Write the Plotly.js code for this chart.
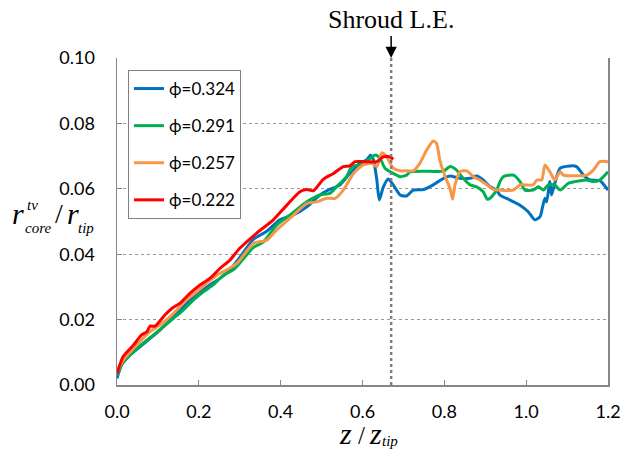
<!DOCTYPE html>
<html>
<head>
<meta charset="utf-8">
<script src="https://cdn.plot.ly/plotly-3.0.1.min.js"></script>
<style>html,body{margin:0;padding:0;background:#fff;}#chart{width:622px;height:450px;}</style>
</head>
<body>
<div id="chart"></div>
<script>
// phi = 0.324 (blue)
const zBlue = [0, 0.011, 0.032, 0.056, 0.081, 0.105, 0.13, 0.154, 0.178, 0.203, 0.227, 0.252, 0.276, 0.30, 0.333, 0.366, 0.398, 0.431, 0.464, 0.496, 0.516, 0.545, 0.569, 0.594, 0.61, 0.62, 0.627, 0.635, 0.641, 0.651, 0.663, 0.675, 0.692, 0.708, 0.724, 0.749, 0.773, 0.798, 0.814, 0.838, 0.863, 0.879, 0.895, 0.912, 0.928, 0.936, 0.96, 0.985, 1.005, 1.021, 1.034, 1.041, 1.046, 1.050, 1.058, 1.062, 1.070, 1.083, 1.107, 1.123, 1.140, 1.156, 1.180, 1.2];
const yBlue = [0.002, 0.0061, 0.0092, 0.0117, 0.0143, 0.0168, 0.0199, 0.0229, 0.026, 0.0285, 0.0306, 0.0326, 0.0352, 0.039, 0.0445, 0.047, 0.0505, 0.052, 0.0545, 0.0581, 0.0596, 0.0612, 0.0647, 0.0678, 0.0688, 0.0703, 0.0688, 0.0627, 0.0566, 0.0606, 0.063, 0.0612, 0.0581, 0.0578, 0.0596, 0.0598, 0.0612, 0.0632, 0.0639, 0.0632, 0.0632, 0.0639, 0.0627, 0.0606, 0.0596, 0.0581, 0.0566, 0.055, 0.053, 0.0505, 0.0515, 0.055, 0.0571, 0.056, 0.0622, 0.0581, 0.0617, 0.0663, 0.067, 0.0668, 0.0642, 0.0627, 0.0625, 0.0596];

// phi = 0.291 (green)
const zGreen = [0, 0.015, 0.04, 0.064, 0.089, 0.113, 0.138, 0.162, 0.187, 0.211, 0.235, 0.26, 0.284, 0.305, 0.333, 0.358, 0.39, 0.423, 0.464, 0.496, 0.52, 0.541, 0.561, 0.574, 0.594, 0.614, 0.631, 0.643, 0.655, 0.675, 0.692, 0.708, 0.716, 0.75, 0.798, 0.814, 0.83, 0.846, 0.863, 0.879, 0.895, 0.905, 0.912, 0.928, 0.936, 0.944, 0.969, 0.985, 0.997, 1.017, 1.030, 1.042, 1.054, 1.070, 1.083, 1.103, 1.119, 1.148, 1.164, 1.180, 1.2];
const yGreen = [0.003, 0.0071, 0.0102, 0.0128, 0.0153, 0.0178, 0.0204, 0.0229, 0.026, 0.0285, 0.0306, 0.0336, 0.0352, 0.038, 0.042, 0.0438, 0.0489, 0.052, 0.056, 0.0581, 0.0586, 0.0612, 0.0637, 0.0668, 0.0673, 0.0688, 0.0703, 0.0693, 0.0663, 0.0647, 0.0637, 0.0642, 0.0652, 0.0654, 0.0654, 0.0668, 0.0657, 0.0632, 0.0612, 0.0606, 0.0591, 0.0568, 0.0571, 0.0596, 0.0622, 0.0637, 0.0642, 0.0622, 0.0596, 0.0596, 0.0606, 0.0596, 0.0612, 0.0612, 0.0596, 0.0617, 0.0622, 0.0627, 0.0622, 0.0627, 0.0652];

// phi = 0.257 (orange)
const zOrange = [0, 0.015, 0.04, 0.06, 0.081, 0.105, 0.13, 0.146, 0.17, 0.195, 0.219, 0.244, 0.268, 0.293, 0.333, 0.366, 0.39, 0.423, 0.464, 0.488, 0.512, 0.533, 0.553, 0.578, 0.602, 0.622, 0.635, 0.647, 0.659, 0.675, 0.692, 0.708, 0.724, 0.740, 0.757, 0.773, 0.781, 0.789, 0.802, 0.814, 0.820, 0.826, 0.838, 0.855, 0.871, 0.887, 0.904, 0.920, 0.936, 0.969, 0.985, 1.017, 1.026, 1.038, 1.046, 1.058, 1.070, 1.083, 1.091, 1.148, 1.164, 1.180, 1.2];
const yOrange = [0.004, 0.0076, 0.0112, 0.0138, 0.0163, 0.0183, 0.0209, 0.0229, 0.026, 0.0285, 0.0311, 0.0336, 0.0352, 0.0372, 0.0433, 0.0443, 0.0474, 0.051, 0.0555, 0.056, 0.0571, 0.0571, 0.0596, 0.0647, 0.0673, 0.0678, 0.0668, 0.071, 0.0698, 0.0663, 0.0655, 0.0655, 0.0655, 0.0678, 0.0719, 0.0746, 0.0739, 0.0688, 0.0637, 0.0601, 0.0568, 0.0612, 0.0652, 0.0655, 0.0637, 0.0627, 0.0612, 0.0598, 0.0596, 0.0596, 0.0612, 0.0612, 0.0627, 0.0627, 0.0673, 0.0652, 0.0627, 0.0652, 0.0642, 0.0642, 0.0657, 0.0683, 0.0683];

// phi = 0.222 (red)
const zRed = [0, 0.015, 0.04, 0.06, 0.073, 0.081, 0.093, 0.117, 0.134, 0.154, 0.178, 0.203, 0.227, 0.252, 0.276, 0.30, 0.341, 0.382, 0.415, 0.447, 0.464, 0.48, 0.504, 0.529, 0.553, 0.569, 0.582, 0.61, 0.635, 0.651, 0.667, 0.675];
const yRed = [0.0035, 0.0087, 0.0122, 0.0153, 0.0163, 0.018, 0.018, 0.0214, 0.0234, 0.025, 0.028, 0.0306, 0.0326, 0.0357, 0.0382, 0.0418, 0.0464, 0.0505, 0.055, 0.0591, 0.0598, 0.0594, 0.0629, 0.0647, 0.0668, 0.067, 0.0683, 0.0683, 0.0683, 0.0698, 0.0698, 0.069];

const seriesNames = ["ϕ=0.324", "ϕ=0.291", "ϕ=0.257", "ϕ=0.222"];
const seriesColors = ["#0070C0", "#00B050", "#F79646", "#FF0000"];
const shroudZ = 0.67;
const xTicks = [0, 0.2, 0.4, 0.6, 0.8, 1.0, 1.2];
const yTicks = [0, 0.02, 0.04, 0.06, 0.08, 0.10];

const xs = [zBlue, zGreen, zOrange, zRed];
const ys = [yBlue, yGreen, yOrange, yRed];
const traces = xs.map((x, i) => ({
  x: x, y: ys[i], type: "scatter", mode: "lines",
  name: seriesNames[i], legendgroup: "g" + i,
  line: {color: seriesColors[i], width: 3, shape: "spline", smoothing: 0.6}
}));

const L = 117, R = 608, T = 58, B = 385;
const px = v => (v - L) / (R - L);
const py = v => (B - v) / (B - T);

const sans = "Lato, 'Open Sans', sans-serif";
const tickFont = {family: sans, size: 18, color: "#000"};
const serif = "'Liberation Serif', 'DejaVu Serif', serif";

function txt(text, cx, cy, size) {
  return {xref: "paper", yref: "paper", x: px(cx), y: py(cy), xanchor: "center", yanchor: "middle",
    text: text, showarrow: false, font: {family: serif, size: size, color: "#000"}};
}

const layout = {
  width: 622, height: 450,
  margin: {l: L, r: 622 - R, t: T, b: 450 - B},
  paper_bgcolor: "#fff", plot_bgcolor: "#fff",
  showlegend: true,
  legend: {
    x: px(128), y: py(70), xanchor: "left", yanchor: "top",
    bordercolor: "#808080", borderwidth: 1, bgcolor: "#fff",
    font: {family: sans, size: 17, color: "#000"},
    tracegroupgap: 12, itemwidth: 30
  },
  xaxis: {
    range: [0, 1.2], tickvals: xTicks, ticktext: xTicks.map(v => v.toFixed(1)),
    showgrid: false, zeroline: false,
    showline: true, linecolor: "#868686", linewidth: 1.5,
    ticks: "inside", ticklen: 5, tickcolor: "#868686",
    tickfont: tickFont, ticklabelstandoff: 10
  },
  yaxis: {
    range: [0, 0.1], tickvals: yTicks, ticktext: yTicks.map(v => v.toFixed(2)),
    showgrid: true, gridcolor: "#999999", griddash: "dot", gridwidth: 1,
    zeroline: false,
    showline: true, linecolor: "#868686", linewidth: 1.5, mirror: true,
    ticks: "inside", ticklen: 5, tickcolor: "#868686",
    tickfont: tickFont, ticklabelstandoff: 17
  },
  shapes: [{
    type: "line", xref: "x", yref: "paper", x0: shroudZ, x1: shroudZ, y0: 0, y1: 1,
    line: {color: "#7f7f7f", width: 2.5, dash: "dot"}
  }],
  annotations: [
    {
      xref: "x", yref: "paper", x: shroudZ, y: 1, text: "Shroud L.E.",
      showarrow: true, arrowhead: 2, arrowsize: 1.5, arrowwidth: 1.5, arrowcolor: "#000",
      ax: 0, ay: -22, font: {family: serif, size: 26, color: "#000"}, yanchor: "bottom"
    },
    // y-axis title: r_core^tv / r_tip
    txt("<i>r</i>", 17.5, 213, 30),
    txt("<i>tv</i>", 32, 205, 15),
    txt("<i>core</i>", 38, 228, 15),
    txt("/", 59, 213, 28),
    txt("<i>r</i>", 73, 213, 30),
    txt("<i>tip</i>", 86, 228, 15),
    // x-axis title: z / z_tip
    txt("<i>z</i>", 345, 433, 30),
    txt("/", 361.5, 435, 25),
    txt("<i>z</i>", 375, 433, 30),
    txt("<i>tip</i>", 390, 441, 15)
  ]
};

Plotly.newPlot("chart", traces, layout, {staticPlot: true, displayModeBar: false});
</script>
</body>
</html>
